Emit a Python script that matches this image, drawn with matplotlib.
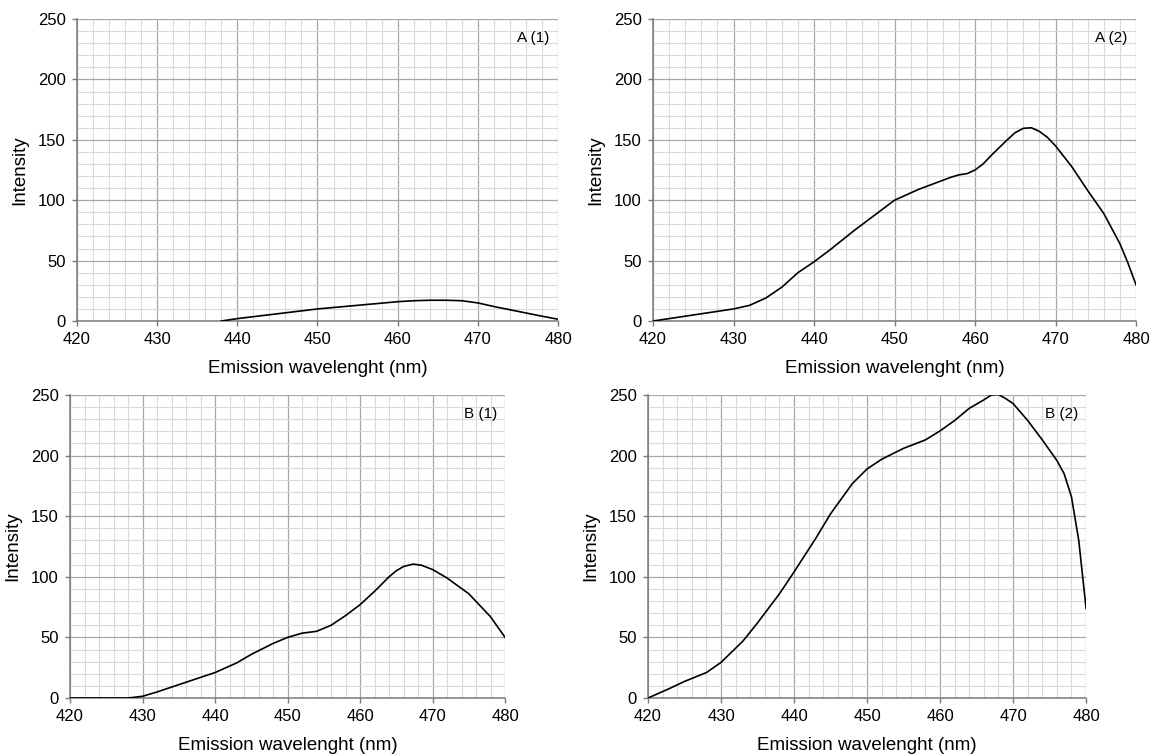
import numpy as np
import matplotlib
matplotlib.use('Agg')
import matplotlib.pyplot as plt
from matplotlib.ticker import MultipleLocator

plt.rcParams['font.family'] = ['Liberation Sans', 'DejaVu Sans']

# spectra (wavelength nm, intensity)
a1_x = [438, 440, 445, 450, 455, 460, 462, 464, 466, 468, 470, 472, 475, 478, 480]
a1_y = [0, 2, 6, 10, 13, 16, 16.8, 17.2, 17.2, 16.8, 15, 12, 8, 4, 1.5]

a2_x = [420, 423, 426, 430, 432, 434, 436, 438, 440, 442, 445, 448, 450, 453,
        455, 457, 458, 459, 460, 461, 462, 464, 465, 466, 467, 468, 469, 470,
        472, 474, 476, 478, 479, 480]
a2_y = [0, 3, 6, 10, 13, 19, 28, 40, 49, 59, 75, 90, 100, 109,
        114, 119, 121, 122, 125, 130, 137, 150, 156, 159.5, 160, 157, 152, 145,
        128, 108, 89, 64, 48, 30]

b1_x = [420, 428, 430, 432, 435, 438, 440, 443, 445, 448, 450, 452, 454, 456,
        458, 460, 462, 464, 465, 466, 467.3, 468.5, 470, 472, 475, 478, 480]
b1_y = [0, 0, 1.4, 5, 11, 17, 21, 29, 36, 45, 50, 53.5, 55, 60,
        68, 77, 88, 100, 105, 108.5, 110.5, 109.5, 106, 99, 86, 67, 50]

b2_x = [420, 423, 425, 428, 430, 433, 435, 438, 440, 443, 445, 448, 450, 452,
        455, 458, 460, 462, 464, 466, 467, 468, 469, 470, 472, 474, 476, 477,
        478, 479, 480]
b2_y = [0, 8, 13.7, 21, 29.4, 47, 62, 86, 104, 132, 152, 177, 189, 197,
        206, 213, 220.4, 229, 239, 246, 250, 250.5, 247, 243, 229, 213, 196, 185,
        166, 130, 74]

panels = [
    ('A (1)', a1_x, a1_y, [0.0666, 0.5748, 0.4161, 0.4000]),
    ('A (2)', a2_x, a2_y, [0.5649, 0.5748, 0.4178, 0.4000]),
    ('B (1)', b1_x, b1_y, [0.0606, 0.0755, 0.3763, 0.4013]),
    ('B (2)', b2_x, b2_y, [0.5606, 0.0755, 0.3789, 0.4013]),
]

fig = plt.figure(figsize=(11.56, 7.55), dpi=100)

for label, xs, ys, rect in panels:
    ax = fig.add_axes(rect)
    ax.plot(xs, ys, color='black', lw=1.2, clip_on=True, zorder=3)
    ax.set_xlim(420, 480)
    ax.set_ylim(0, 250)
    ax.xaxis.set_major_locator(MultipleLocator(10))
    ax.xaxis.set_minor_locator(MultipleLocator(2))
    ax.yaxis.set_major_locator(MultipleLocator(50))
    ax.yaxis.set_minor_locator(MultipleLocator(10))
    ax.grid(which='major', color='#a8a8a8', lw=0.9, zorder=0)
    ax.grid(which='minor', color='#dadada', lw=0.8, zorder=0)
    ax.set_axisbelow(True)
    for s in ['top', 'right']:
        ax.spines[s].set_visible(False)
    for s in ['left', 'bottom']:
        ax.spines[s].set_color('#7a7a7a')
        ax.spines[s].set_linewidth(1.1)
    ax.tick_params(which='major', length=3.5, width=1, color='#7a7a7a',
                   labelsize=12, pad=4.5)
    ax.tick_params(which='minor', length=0)
    ax.set_xlabel('Emission wavelenght (nm)', fontsize=13.5, labelpad=9)
    ax.set_ylabel('Intensity', fontsize=13.5, labelpad=7)
    ax.text(0.982, 0.96, label, transform=ax.transAxes, ha='right', va='top',
            fontsize=11)

fig.savefig('out.png', dpi=100)
